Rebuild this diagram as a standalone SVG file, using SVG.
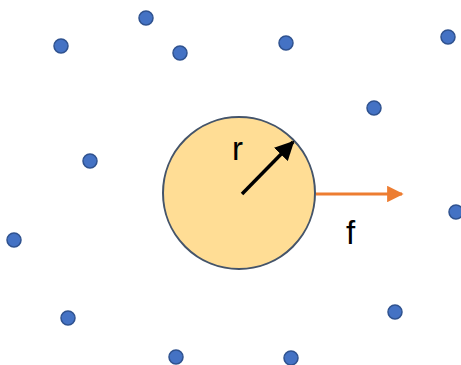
<svg xmlns="http://www.w3.org/2000/svg" width="461" height="365" viewBox="0 0 461 365">
<style>
.dot{fill:#4472C4;stroke:#2F528F;stroke-width:1.5}
.lbl{font-family:"Liberation Sans",Arial,sans-serif;font-size:33px;fill:#000}
</style>
<defs>
<marker id="ah-black" viewBox="0 0 10 10" refX="9" refY="5" markerWidth="5.5" markerHeight="5.5" markerUnits="strokeWidth" orient="auto">
<path d="M0,0 L10,5 L0,10 Z" fill="#000"/>
</marker>
<marker id="ah-orange" viewBox="0 0 10 10" refX="9" refY="5" markerWidth="5.5" markerHeight="5.5" markerUnits="strokeWidth" orient="auto">
<path d="M0,0 L10,5 L0,10 Z" fill="#ED7D31"/>
</marker>
</defs>
<rect width="461" height="365" fill="#fff"/>
<g id="particles">
<circle class="dot" cx="61" cy="46" r="7"/>
<circle class="dot" cx="146" cy="18" r="7"/>
<circle class="dot" cx="180" cy="53" r="7"/>
<circle class="dot" cx="286" cy="43" r="7"/>
<circle class="dot" cx="448" cy="37" r="7"/>
<circle class="dot" cx="374" cy="108" r="7"/>
<circle class="dot" cx="90" cy="161" r="7"/>
<circle class="dot" cx="14" cy="240" r="7"/>
<circle class="dot" cx="456" cy="212" r="7"/>
<circle class="dot" cx="68" cy="318" r="7"/>
<circle class="dot" cx="176" cy="357" r="7"/>
<circle class="dot" cx="291" cy="358" r="7"/>
<circle class="dot" cx="395" cy="312" r="7"/>
</g>
<g id="body">
<circle cx="239" cy="193" r="76" fill="#FFD98A" fill-opacity="0.9" stroke="#44546A" stroke-width="2"/>
<text class="lbl" x="232" y="160">r</text>
</g>
<g id="connectors">
<line x1="242" y1="194" x2="293" y2="142" stroke="#000" stroke-width="3.5" marker-end="url(#ah-black)"/>
<line x1="316" y1="194" x2="402" y2="194" stroke="#ED7D31" stroke-width="3" marker-end="url(#ah-orange)"/>
</g>
<text class="lbl" x="346" y="244">f</text>
</svg>
